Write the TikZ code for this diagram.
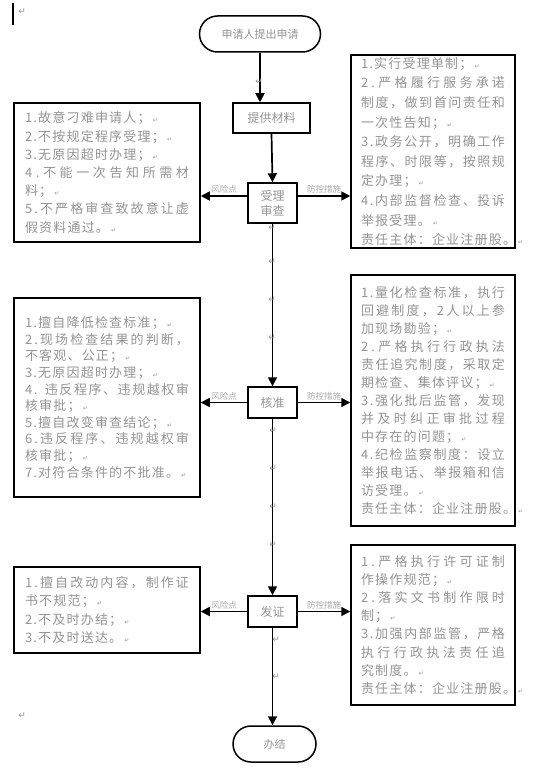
\documentclass[tikz,border=0pt]{standalone}
\usepackage{fontspec}
\usetikzlibrary{arrows.meta}
\newfontfamily\cjk{Noto Sans CJK SC}
\newfontfamily\symf{DejaVu Sans}
\definecolor{txtgray}{gray}{0.58}
% paragraph mark after each item, full (justified) line, natural line
\makeatletter
\newcommand\pmk{{\symf\fontsize{6}{6}\selectfont\,↵}}
\newcommand\fl[1]{\leavevmode\hbox to\hsize{\@tfor\@ch:=#1\do{\@ch\hskip1.2pt plus 1fil}\unskip}}
\newcommand\nl[1]{\leavevmode\hbox{\@tfor\@ch:=#1\do{\@ch\hskip1.2pt}\unskip}}
\makeatother
\begin{document}
\begin{tikzpicture}[x=1pt,y=-1pt,
    flow/.style={line width=1.7pt,-{Triangle[length=9pt,width=9pt]}},
    term/.style={draw,line width=1.5pt,rounded corners=18pt,minimum width=121pt,minimum height=36pt,
      font=\cjk\fontsize{11}{13}\selectfont,text=txtgray},
    stepbox/.style={draw,line width=1.5pt,minimum width=49pt,minimum height=31pt,inner sep=2pt,
      align=center,font=\cjk\fontsize{12}{15}\selectfont,text=txtgray},
    riskbox/.style={draw,line width=1.5pt,text width=164pt,inner xsep=11pt,inner ysep=2pt,
      align=left,text=txtgray,font=\cjk\fontsize{13}{18.2}\selectfont},
    ctrlbox/.style={riskbox,text width=144pt,inner xsep=10pt},
    lbl/.style={font=\cjk\fontsize{8.5}{9}\selectfont,text=txtgray!80,inner sep=1.5pt},
    pmark/.style={font=\symf\fontsize{9}{9}\selectfont,text=txtgray,inner sep=0pt,anchor=east}]
  \useasboundingbox (0,0) rectangle (548,783);

  % main flow
  \node[term] (start) at (260,34) {申请人提出申请};
  \node[stepbox,minimum width=77pt,minimum height=30pt] (submit) at (271.5,118) {提供材料};
  \node[stepbox,minimum height=40pt] (accept) at (272.5,203) {受理\\审查};
  \node[stepbox] (approve) at (272.5,402.5) {核准};
  \node[stepbox] (issue) at (272.5,611.5) {发证};
  \node[term,minimum width=83pt] (finish) at (274.5,744) {办结};

  % risk points (left)
  \node[riskbox,minimum height=139pt] (riskA) at (107,172.5) {%
    \nl{1.故意刁难申请人；\pmk}\\
    \nl{2.不按规定程序受理；\pmk}\\
    \nl{3.无原因超时办理；\pmk}\\
    \fl{4.不能一次告知所需材}\\
    \nl{料；\pmk}\\
    \fl{5.不严格审查致故意让虚}\\
    \nl{假资料通过。\pmk}};
  \node[riskbox,minimum height=199pt,font=\cjk\fontsize{13}{16.6}\selectfont] (riskB) at (107,397.5) {%
    \nl{1.擅自降低检查标准；\pmk}\\
    \fl{2.现场检查结果的判断，}\\
    \nl{不客观、公正；\pmk}\\
    \nl{3.无原因超时办理；\pmk}\\
    \fl{4.\ 违反程序、违规越权审}\\
    \nl{核审批；\pmk}\\
    \nl{5.擅自改变审查结论；\pmk}\\
    \fl{6.违反程序、违规越权审}\\
    \nl{核审批；\pmk}\\
    \nl{7.对符合条件的不批准。\pmk}};
  \node[riskbox,minimum height=86pt] (riskC) at (107,610) {%
    \fl{1.擅自改动内容，制作证}\\
    \nl{书不规范；\pmk}\\
    \nl{2.不及时办结；\pmk}\\
    \nl{3.不及时送达。\pmk}};

  % control measures (right)
  \node[ctrlbox,minimum height=185pt,font=\cjk\fontsize{13}{19.6}\selectfont] (ctrlA) at (433,151.5) {%
    \nl{1.实行受理单制；\pmk}\\
    \fl{2.严格履行服务承诺}\\
    \fl{制度，做到首问责任和}\\
    \nl{一次性告知；\pmk}\\
    \fl{3.政务公开，明确工作}\\
    \fl{程序、时限等，按照规}\\
    \nl{定办理；\pmk}\\
    \fl{4.内部监督检查、投诉}\\
    \nl{举报受理。\pmk}\\
    \nl{责任主体：企业注册股。\pmk}};
  \node[ctrlbox,minimum height=251pt,font=\cjk\fontsize{13}{18}\selectfont] (ctrlB) at (433,400.5) {%
    \fl{1.量化检查标准，执行}\\
    \fl{回避制度，2人以上参}\\
    \nl{加现场勘验；\pmk}\\
    \fl{2.严格执行行政执法}\\
    \fl{责任追究制度，采取定}\\
    \nl{期检查、集体评议；\pmk}\\
    \fl{3.强化批后监管，发现}\\
    \fl{并及时纠正审批过程}\\
    \nl{中存在的问题；\pmk}\\
    \fl{4.纪检监察制度：设立}\\
    \fl{举报电话、举报箱和信}\\
    \nl{访受理。\pmk}\\
    \nl{责任主体：企业注册股。\pmk}};
  \node[ctrlbox,minimum height=160pt,font=\cjk\fontsize{13}{18.1}\selectfont] (ctrlC) at (433,625) {%
    \fl{1.严格执行许可证制}\\
    \nl{作操作规范；\pmk}\\
    \fl{2.落实文书制作限时}\\
    \nl{制；\pmk}\\
    \fl{3.加强内部监管，严格}\\
    \fl{执行行政执法责任追}\\
    \nl{究制度。\pmk}\\
    \nl{责任主体：企业注册股。\pmk}};

  % vertical arrows
  \draw[flow] (start.south) -- (start.south |- submit.north);
  \draw[flow] (submit.south) -- (accept.north);
  \draw[flow] (accept.south) -- (approve.north);
  \draw[flow] (approve.south) -- (issue.north);
  \draw[flow] (issue.south) -- (issue.south |- finish.north);

  % side arrows
  \draw[flow] ([yshift=7pt]accept.west) -- ([yshift=7pt]accept.west -| riskA.east)
    node[lbl,midway,above] (rA) {风险点};
  \draw[flow] ([yshift=7pt]accept.east) -- ([yshift=7pt]accept.east -| ctrlA.west)
    node[lbl,midway,above] (cA) {防控措施};
  \draw[flow] (approve.west) -- (approve.west -| riskB.east)
    node[lbl,midway,above] (rB) {风险点};
  \draw[flow] (approve.east) -- (approve.east -| ctrlB.west)
    node[lbl,midway,above] (cB) {防控措施};
  \draw[flow] (issue.west) -- (issue.west -| riskC.east)
    node[lbl,midway,above] (rC) {风险点};
  \draw[flow] (issue.east) -- (issue.east -| ctrlC.west)
    node[lbl,midway,above] (cC) {防控措施};

  % paragraph marks and cursor
  \draw[line width=2.5pt] (13,3) -- (13,25);
  \foreach \mx/\my [count=\k] in {26/12,263/82,276/228,276/262,276/300,276/338,
      277/431,277/469,277/507,277/545,280/640,280/677,26/716}
    \node[pmark] (pm\k) at (\mx,\my) {↵};
\end{tikzpicture}
\end{document}
